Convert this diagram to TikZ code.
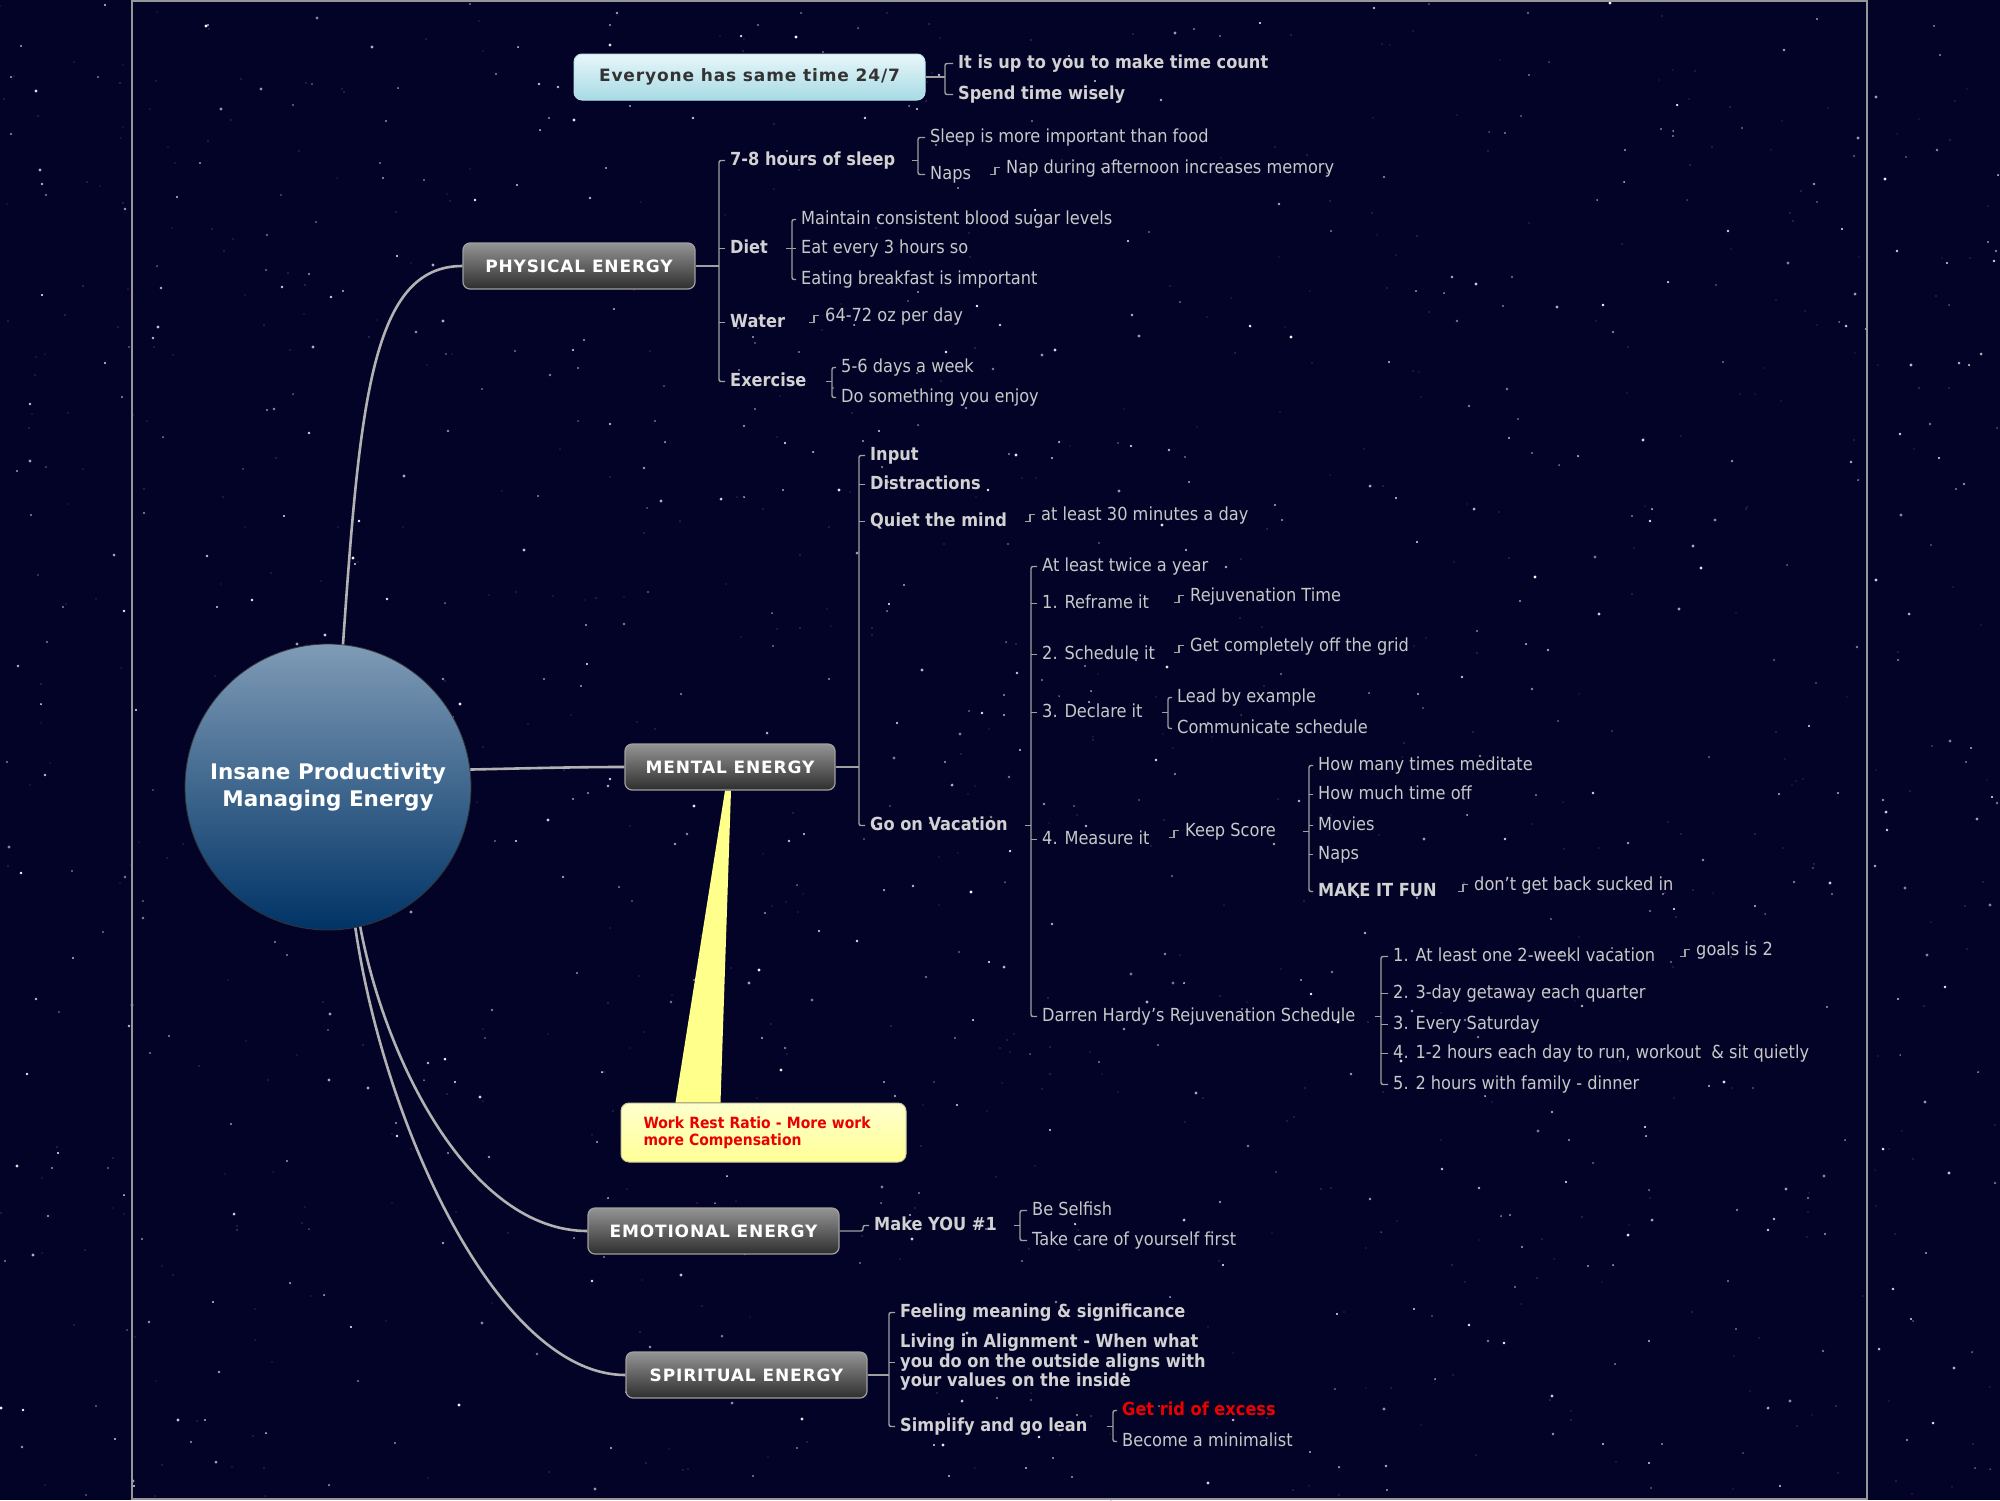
\documentclass[tikz,border=0pt]{standalone}
\usepackage{fontspec}
\setmainfont{DejaVu Sans}[FakeStretch=0.9]
\newfontfamily\boxfont{DejaVu Sans}[LetterSpace=5]
\newfontfamily\centerfont{DejaVu Sans}
\usetikzlibrary{calc}
\pgfdeclarelayer{stars}
\pgfdeclarelayer{back}
\pgfsetlayers{stars,back,main}
\definecolor{bgc}{RGB}{3,3,40}
\definecolor{txtc}{RGB}{200,200,200}
\definecolor{btxtc}{RGB}{210,210,210}
\definecolor{connc}{RGB}{160,160,160}
\definecolor{curvec}{RGB}{178,178,178}
\definecolor{framec}{RGB}{150,150,150}
\definecolor{boxtop}{RGB}{148,148,148}
\definecolor{boxmid}{RGB}{58,58,58}
\definecolor{boxbot}{RGB}{46,46,46}
\definecolor{boxedge}{RGB}{160,160,160}
\definecolor{cyantop}{RGB}{232,247,250}
\definecolor{cyanbot}{RGB}{166,218,228}
\definecolor{cyanedge}{RGB}{190,226,233}
\definecolor{darktxt}{RGB}{51,51,51}
\definecolor{circtop}{RGB}{127,155,182}
\definecolor{circmid}{RGB}{18,64,112}
\definecolor{circbot}{RGB}{0,51,102}
\definecolor{calltop}{RGB}{255,255,205}
\definecolor{callbot}{RGB}{255,255,150}
\definecolor{calledge}{RGB}{200,200,160}
\definecolor{tailc}{RGB}{255,255,140}
\definecolor{redc}{RGB}{235,0,0}
\newcommand\brkt[3]{\draw[conn,rounded corners=2pt] (#2.west) -| (#1 |- #3.west) -- (#3.west);}
\newcommand\tickto[2]{\draw[conn] (#1 |- #2.west) -- (#2.west);}
\newcommand\pstub[2]{\draw[conn] ($(#1 |- #2.east)+(-6,0)$) -- (#1 |- #2.east);}
\newcommand\boxlink[2]{\draw[conn] (#2.east) -- (#1 |- #2.east);}
\newcommand\stepto[1]{\draw[conn] ($(#1.west)+(-11,6)$) -- ++(5,0) -- ++(0,-7) -- ++(5,0);}
\begin{document}
\begin{tikzpicture}[x=1pt,y=-1pt,
  txt/.style={anchor=west,xshift=-5pt,yshift=-2.5pt,inner xsep=5pt,inner ysep=1pt,text height=13pt,text depth=4pt,text=txtc,font=\fontsize{18}{21}\selectfont},
  btxt/.style={txt,text=btxtc,font=\fontsize{18}{21}\selectfont\bfseries},
  conn/.style={draw=connc,line width=1.4pt},
  maincurve/.style={draw=curvec,line width=2.6pt},
  ebox/.style={rectangle,rounded corners=7pt,draw=boxedge,line width=1.2pt,top color=boxtop,middle color=boxmid,bottom color=boxbot,text=white,font=\boxfont\bfseries\fontsize{17}{20}\selectfont,minimum height=46pt,inner sep=0pt},
  cbox/.style={rectangle,rounded corners=8pt,draw=cyanedge,line width=1pt,top color=cyantop,bottom color=cyanbot,text=darktxt,font=\boxfont\bfseries\fontsize{17}{20}\selectfont,minimum height=46pt,inner sep=0pt},
  callbox/.style={rectangle,rounded corners=8pt,draw=calledge,line width=1pt,top color=calltop,bottom color=callbot,text=redc,font=\fontsize{15.5}{17}\selectfont\bfseries,minimum height=59pt,text width=240pt,inner xsep=22.5pt,align=left},
  centre/.style={circle,minimum size=286pt,inner sep=0pt,draw=black!80,line width=0.8pt,top color=circtop,middle color=circmid,bottom color=circbot,text=white,align=center,font=\centerfont\bfseries\fontsize{21.5}{27}\selectfont}
]
\useasboundingbox (0,0) rectangle (2000,1500);
\begin{pgfonlayer}{stars}
\fill[bgc] (0,0) rectangle (2000,1500);
\pgfmathsetseed{2024}
\foreach \i in {1,...,550}{
  \pgfmathsetmacro{\sx}{random(0,2000)}
  \pgfmathsetmacro{\sy}{random(0,1500)}
  \pgfmathsetmacro{\so}{0.25+0.3*rnd}
  \fill[red!50!blue!70!white,opacity=\so] (\sx,\sy) circle[radius=0.9pt];
}
\foreach \i in {1,...,750}{
  \pgfmathsetmacro{\sx}{random(0,2000)}
  \pgfmathsetmacro{\sy}{random(0,1500)}
  \pgfmathsetmacro{\sr}{0.7+1.0*rnd}
  \pgfmathsetmacro{\so}{0.45+0.55*rnd}
  \fill[white,opacity=\so] (\sx,\sy) circle[radius=\sr pt];
}
\end{pgfonlayer}
\draw[framec,line width=1.5pt] (132,1) rectangle (1867,1499);

% central topic
\node[centre] (cen) at (328,787) {Insane Productivity\\Managing Energy};

% main boxes
\node[cbox,minimum width=351pt] (evb) at (749.5,77) {Everyone has same time 24/7};
\node[ebox,minimum width=232pt] (phys) at (579,266) {PHYSICAL ENERGY};
\node[ebox,minimum width=210pt] (ment) at (730,767) {MENTAL ENERGY};
\node[ebox,minimum width=251pt] (emo) at (713.5,1231) {EMOTIONAL ENERGY};
\node[ebox,minimum width=241pt] (spi) at (746.5,1375) {SPIRITUAL ENERGY};
\node[callbox] (call) at (763.5,1132.5) {Work Rest Ratio - More work\\more Compensation};

% main curves
\draw[maincurve] (cen.84) .. controls (360,400) and (372,266) .. (phys.west);
\draw[maincurve] (cen.7) .. controls (540,768) and (575,767) .. (ment.west);
\draw[maincurve] (cen.283) .. controls (385,1060) and (470,1231) .. (emo.west);
\draw[maincurve] (cen.281) .. controls (385,1130) and (500,1375) .. (spi.west);

% callout tail
\begin{pgfonlayer}{back}
\fill[tailc] ($(ment.south)+(-5,0)$) -- ($(ment.south)+(1,0)$) -- ($(call.north west)+(100,0)$) -- ($(call.north west)+(55,0)$) -- cycle;
\end{pgfonlayer}

% ---- Everyone has same time
\node[btxt] (e1) at (958,61) {It is up to you to make time count};
\node[btxt] (e2) at (958,92) {Spend time wisely};
\coordinate (bE) at (945,0);
\boxlink{bE}{evb}\brkt{bE}{e1}{e2}

% ---- Physical
\node[btxt] (p1) at (730,158) {7-8 hours of sleep};
\node[btxt] (p2) at (730,246) {Diet};
\node[btxt] (p3) at (730,320) {Water};
\node[btxt] (p4) at (730,379) {Exercise};
\coordinate (bP) at (719,0);
\boxlink{bP}{phys}\brkt{bP}{p1}{p4}\tickto{bP}{p2}\tickto{bP}{p3}

\node[txt] (s1) at (930,135) {Sleep is more important than food};
\node[txt] (s2) at (930,172) {Naps};
\coordinate (bS) at (918,0);
\pstub{bS}{p1}\brkt{bS}{s1}{s2}
\node[txt] (s21) at (1006,166) {Nap during afternoon increases memory};
\stepto{s21}

\node[txt] (d1) at (801,217) {Maintain consistent blood sugar levels};
\node[txt] (d2) at (801,246) {Eat every 3 hours so};
\node[txt] (d3) at (801,277) {Eating breakfast is important};
\coordinate (bD) at (792,0);
\pstub{bD}{p2}\brkt{bD}{d1}{d3}\tickto{bD}{d2}

\node[txt] (w1) at (825,314) {64-72 oz per day};
\stepto{w1}

\node[txt] (x1) at (841,365) {5-6 days a week};
\node[txt] (x2) at (841,395) {Do something you enjoy};
\coordinate (bX) at (832,0);
\pstub{bX}{p4}\brkt{bX}{x1}{x2}

% ---- Mental
\node[btxt] (m1) at (870,453) {Input};
\node[btxt] (m2) at (870,482) {Distractions};
\node[btxt] (m3) at (870,519) {Quiet the mind};
\node[btxt] (m4) at (870,823) {Go on Vacation};
\coordinate (bM) at (859,0);
\boxlink{bM}{ment}\brkt{bM}{m1}{m4}\tickto{bM}{m2}\tickto{bM}{m3}

\node[txt] (q1) at (1041,513) {at least 30 minutes a day};
\stepto{q1}

\node[txt] (v1) at (1042,564) {At least twice a year};
\node[txt] (v2) at (1042,601) {1. Reframe it};
\node[txt] (v3) at (1042,652) {2. Schedule it};
\node[txt] (v4) at (1042,710) {3. Declare it};
\node[txt] (v5) at (1042,837) {4. Measure it};
\node[txt] (v6) at (1042,1014) {Darren Hardy's Rejuvenation Schedule};
\coordinate (bV) at (1031,0);
\pstub{bV}{m4}\brkt{bV}{v1}{v6}\tickto{bV}{v2}\tickto{bV}{v3}\tickto{bV}{v4}\tickto{bV}{v5}

\node[txt] (r1) at (1190,594) {Rejuvenation Time};
\stepto{r1}
\node[txt] (g1) at (1190,644) {Get completely off the grid};
\stepto{g1}

\node[txt] (l1) at (1177,695) {Lead by example};
\node[txt] (l2) at (1177,726) {Communicate schedule};
\coordinate (bL) at (1168,0);
\pstub{bL}{v4}\brkt{bL}{l1}{l2}

\node[txt] (k0) at (1185,829) {Keep Score};
\stepto{k0}
\node[txt] (k1) at (1318,763) {How many times meditate};
\node[txt] (k2) at (1318,792) {How much time off};
\node[txt] (k3) at (1318,823) {Movies};
\node[txt] (k4) at (1318,852) {Naps};
\node[btxt] (k5) at (1318,889) {MAKE IT FUN};
\coordinate (bK) at (1309,0);
\pstub{bK}{k0}\brkt{bK}{k1}{k5}\tickto{bK}{k2}\tickto{bK}{k3}\tickto{bK}{k4}
\node[txt] (f1) at (1474,883) {don't get back sucked in};
\stepto{f1}

\node[txt] (h1) at (1393,954) {1. At least one 2-weekl vacation};
\node[txt] (h2) at (1393,991) {2. 3-day getaway each quarter};
\node[txt] (h3) at (1393,1022) {3. Every Saturday};
\node[txt] (h4) at (1393,1051) {4. 1-2 hours each day to run, workout\ \ \& sit quietly};
\node[txt] (h5) at (1393,1082) {5. 2 hours with family - dinner};
\coordinate (bH) at (1381,0);
\pstub{bH}{v6}\brkt{bH}{h1}{h5}\tickto{bH}{h2}\tickto{bH}{h3}\tickto{bH}{h4}
\node[txt] (gl) at (1696,948) {goals is 2};
\stepto{gl}

% ---- Emotional
\node[btxt] (y1) at (874,1223) {Make YOU \#1};
\draw[conn,rounded corners=2pt] (emo.east) -| ($(y1.west)+(-6,0)$) -- (y1.west);
\node[txt] (y11) at (1032,1208) {Be Selfish};
\node[txt] (y12) at (1032,1238) {Take care of yourself first};
\coordinate (bY) at (1020,0);
\pstub{bY}{y1}\brkt{bY}{y11}{y12}

% ---- Spiritual
\node[btxt] (sp1) at (900,1310) {Feeling meaning \& significance};
\node[btxt,align=left,text height={},text depth={},font=\fontsize{18}{19.5}\selectfont\bfseries] (sp2) at (900,1360) {Living in Alignment - When what\\you do on the outside aligns with\\your values on the inside};
\node[btxt] (sp3) at (900,1424) {Simplify and go lean};
\coordinate (bSp) at (889,0);
\boxlink{bSp}{spi}\brkt{bSp}{sp1}{sp3}\tickto{bSp}{sp2}

\node[btxt,text=redc] (sl1) at (1122,1408) {Get rid of excess};
\node[txt] (sl2) at (1122,1439) {Become a minimalist};
\coordinate (bSl) at (1113,0);
\pstub{bSl}{sp3}\brkt{bSl}{sl1}{sl2}
\end{tikzpicture}
\end{document}
